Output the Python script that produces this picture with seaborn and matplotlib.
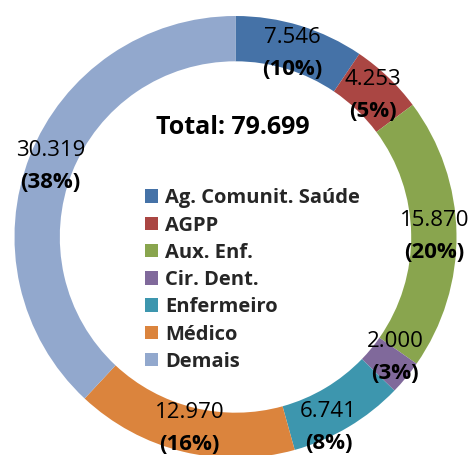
import matplotlib
matplotlib.use("Agg")
import matplotlib.pyplot as plt
import seaborn as sns
from matplotlib.patches import Patch
import numpy as np

categorias = ["Ag. Comunit. Saúde", "AGPP", "Aux. Enf.", "Cir. Dent.", "Enfermeiro", "Médico", "Demais"]
valores = [7546, 4253, 15870, 2000, 6741, 12970, 30319]
percentuais = [10, 5, 20, 3, 8, 16, 38]  # como aparecem no grafico original
cores = ["#4572A7", "#AA4643", "#89A54E", "#80699B", "#3D96AE", "#DB843D", "#92A8CD"]

sns.set_theme(style="white")
plt.rcParams["font.family"] = ["Open Sans", "DejaVu Sans"]

total = sum(valores)

def fmt(v):
    return f"{v:,}".replace(",", ".")

fig = plt.figure(figsize=(4.74, 4.55), dpi=100)
ax = fig.add_axes([0, 0, 1, 1])
R = 221.0
cx, cy = 235.5, 237.0

wedges, _ = ax.pie(valores, colors=sns.color_palette(cores), startangle=90, counterclock=False,
                   radius=1.0, wedgeprops=dict(width=0.205, edgecolor="none"))

ax.set_xlim(-cx / R, (474 - cx) / R)
ax.set_ylim(-(455 - cy) / R, cy / R)
ax.set_aspect("equal")
ax.axis("off")

# ajustes finos dos rotulos (angulo em graus, raio)
ajuste = {0: (0, -0.02), 3: (3.0, 0.0), 4: (-4.5, 0.05), 5: (0, -0.02)}

for i, (w, v, p) in enumerate(zip(wedges, valores, percentuais)):
    da, dr = ajuste.get(i, (0, 0))
    ang = np.deg2rad((w.theta1 + w.theta2) / 2 + da)
    r = 0.9 + dr
    x, y = r * np.cos(ang), r * np.sin(ang)
    ax.text(x, y + 0.062, fmt(v), ha="center", va="center", fontsize=16, color="black")
    ax.text(x, y - 0.084, f"({p}%)", ha="center", va="center", fontsize=16,
            fontweight="bold", color="black")

ax.text(-0.01, 0.495, f"Total: {fmt(total)}", ha="center", va="center", fontsize=18,
        fontweight="bold", color="black")

handles = [Patch(facecolor=c, edgecolor="none") for c in cores]
leg = fig.legend(handles, categorias, loc="center left", bbox_to_anchor=(145 / 474, 1 - 280 / 455),
                 frameon=False, prop=dict(weight="bold", size=14.5), handlelength=0.65,
                 handleheight=0.65, handletextpad=0.35, labelspacing=0.36, borderpad=0,
                 borderaxespad=0)

fig.savefig("out.png", dpi=100)
